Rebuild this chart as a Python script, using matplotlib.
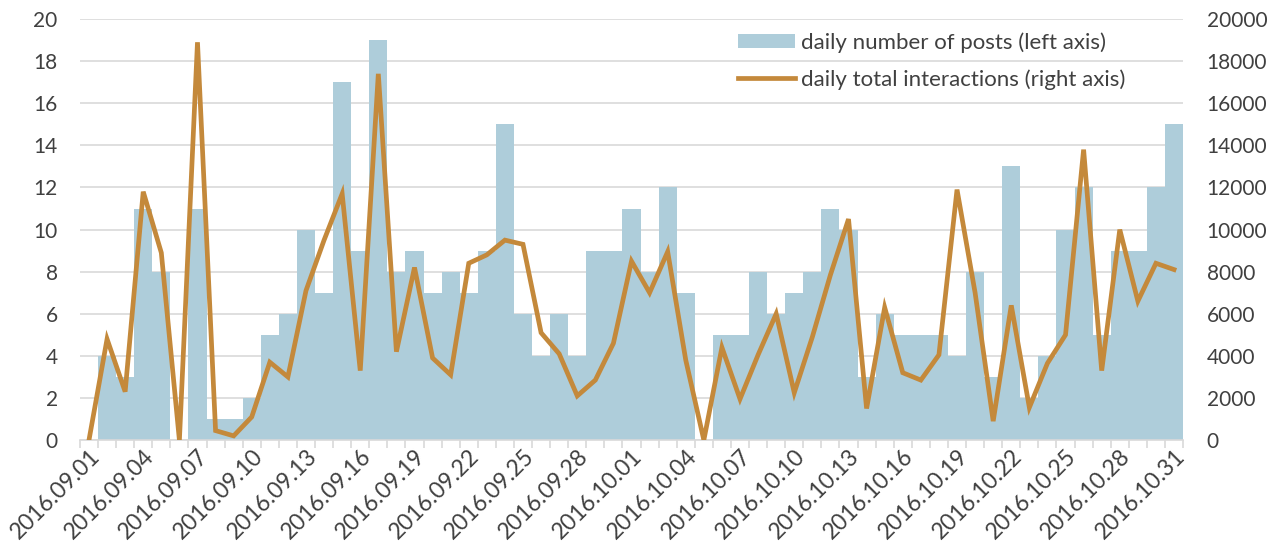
import numpy as np
import pandas as pd
import matplotlib
matplotlib.use('Agg')
import matplotlib.pyplot as plt
from matplotlib.ticker import FixedLocator, MultipleLocator

plt.rcParams['font.family'] = ['Lato', 'DejaVu Sans']

dates = pd.date_range('2016-09-01', '2016-10-31').strftime('%Y.%m.%d').tolist()

posts = [0, 4, 3, 11, 8, 0, 11, 1, 1, 2,
         5, 6, 10, 7, 17, 9, 19, 8, 9, 7,
         8, 7, 9, 15, 6, 4, 6, 4, 9, 9,
         11, 8, 12, 7, 0, 5, 5, 8, 6, 7,
         8, 11, 10, 3, 6, 5, 5, 5, 4, 8,
         3, 13, 2, 4, 10, 12, 5, 9, 9, 12,
         15]

interactions = [0, 4800, 2300, 11800, 8900, 0, 18900, 450, 200, 1100,
                3700, 3000, 7100, 9500, 11700, 3300, 17400, 4200, 8200, 3900,
                3100, 8400, 8800, 9500, 9300, 5100, 4100, 2100, 2850, 4600,
                8500, 7000, 8950, 3800, 0, 4400, 1950, 4050, 6000, 2250,
                4900, 7850, 10500, 1500, 6300, 3200, 2850, 4050, 11900, 7000,
                900, 6400, 1550, 3650, 5000, 13800, 3300, 10000, 6600, 8400,
                8100]

bar_color = '#AECDDA'
line_color = '#C4893B'
grid_color = '#D9D9D9'
text_color = '#404040'

x = np.arange(len(dates))

fig = plt.figure(figsize=(12.79, 5.46), dpi=100)
ax = fig.add_axes([0.0625, 0.194, 0.8625, 0.771])
ax2 = ax.twinx()

bars = ax.bar(x, posts, width=1.0, color=bar_color, label='daily number of posts (left axis)')
line, = ax2.plot(x, interactions, color=line_color, lw=3.4, solid_joinstyle='miter',
                 label='daily total interactions (right axis)')

ax.set_xlim(-0.5, len(dates) - 0.5)
ax.set_ylim(0, 20)
ax2.set_ylim(0, 20000)
ax.yaxis.set_major_locator(MultipleLocator(2))
ax2.yaxis.set_major_locator(MultipleLocator(2000))

ax.set_axisbelow(True)
ax.grid(axis='y', color=grid_color, lw=1.2)

for a in (ax, ax2):
    for s in ('top', 'left', 'right'):
        a.spines[s].set_visible(False)
    a.spines['bottom'].set_color(grid_color)
    a.spines['bottom'].set_linewidth(1.2)
ax2.spines['bottom'].set_visible(False)

ax.set_xticks(x[::3])
ax.set_xticklabels(dates[::3], rotation=45, ha='right', rotation_mode='anchor')
ax.xaxis.set_minor_locator(FixedLocator(np.arange(-0.5, len(dates), 1.0)))
ax.tick_params(axis='x', which='major', length=0, pad=4, labelsize=16.5, labelcolor=text_color)
ax.tick_params(axis='x', which='minor', length=6, width=1.2, color=grid_color)
ax.tick_params(axis='y', length=0, pad=16, labelsize=15, labelcolor=text_color)
ax2.tick_params(axis='y', length=0, pad=17, labelsize=15, labelcolor=text_color)

fig.legend(handles=[bars, line], loc='upper left', bbox_to_anchor=(0.561, 0.978),
           frameon=False, fontsize=16, labelcolor=text_color, handlelength=2.6,
           handleheight=0.6, handletextpad=0.25, labelspacing=0.75)

fig.savefig('out.png', dpi=100)
